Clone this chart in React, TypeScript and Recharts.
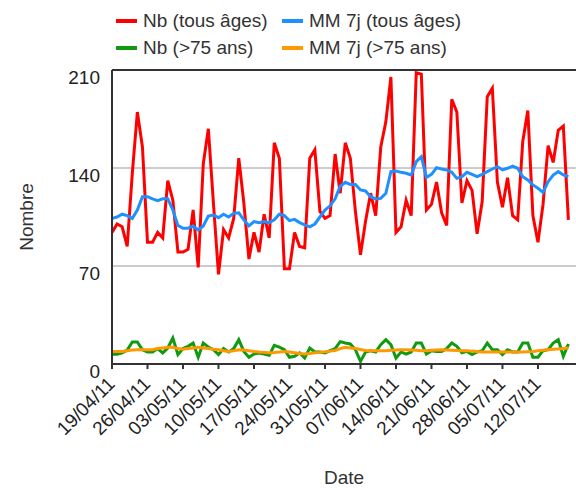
import React from 'react';
import { LineChart, Line, XAxis, YAxis, CartesianGrid, ReferenceLine } from 'recharts';

// Nombre quotidien, du 19/04/11 au 18/07/11 (un point par jour)
const nbTous = [
  94, 100, 98, 84, 136, 180, 155, 87, 87, 94, 90, 131, 117, 80, 80, 82, 110, 69, 143, 168,
  115, 64, 96, 90, 104, 147, 115, 75, 94, 80, 107, 90, 158, 147, 68, 68, 94, 84, 83, 147,
  153, 109, 104, 106, 150, 122, 158, 147, 109, 78, 102, 122, 106, 155, 173, 205, 94, 98, 117, 106,
  208, 207, 110, 114, 130, 108, 99, 189, 180, 115, 131, 124, 93, 116, 191, 197, 130, 112, 133, 106,
  103, 159, 181, 106, 87, 114, 156, 144, 167, 170, 103,
];

const mmTous = [
  104, 105, 107, 106, 104, 110, 119.5, 119.5, 118, 116.7, 118, 118, 110, 99, 97, 97, 98.6, 95.7, 98.6, 105.7,
  106.4, 104.5, 107, 105, 107.6, 108, 103, 98.6, 101.7, 101, 101.7, 101, 103, 107, 106, 102.4, 103.3, 101, 99.3, 98,
  100, 105, 110, 113, 118, 127, 129.8, 128.3, 128.3, 124.3, 123.6, 119.5, 117.9, 118.3, 121.9, 137.4, 137.9, 136.9, 136.2, 135,
  144.5, 148.1, 133.3, 135.5, 140.2, 139.3, 138.6, 137, 132.6, 133.8, 136.9, 135.5, 133.8, 135.5, 137.4, 139.3, 141, 138.6, 139.8, 141.4,
  139.8, 133.8, 131.4, 127.9, 125.5, 122.6, 130.2, 135, 137.4, 135, 133.8,
];

const nb75 = [
  7, 7, 8, 10, 15.7, 15.7, 10.2, 8.6, 8.6, 11, 7.9, 11.4, 18.6, 6.7, 11, 12.6, 15, 4.8, 15, 12.1,
  10.2, 6.7, 11, 8.6, 11, 17.4, 9, 4.8, 7.1, 7.9, 7.1, 6.2, 13.3, 12.1, 10.2, 4.8, 5.5, 7.9, 4.3, 11.4,
  8.6, 8.6, 7.9, 9.5, 11, 16, 15, 14.3, 10.2, 1.9, 8.6, 9.5, 8.6, 13.8, 17.4, 13.8, 4.3, 8.6, 7.1, 8.6,
  15, 15, 7.1, 9.5, 9, 9, 11, 15, 12.6, 8, 9, 6.7, 8.6, 9.5, 15, 10.2, 10.2, 6.7, 10.2, 8.6,
  8.6, 15, 15, 4.8, 4.8, 9.5, 10.2, 15, 17.4, 5.5, 14.3,
];

const mm75 = [
  9, 9, 9, 9.5, 10, 10.2, 10.2, 10.2, 10.2, 11, 11.5, 12, 12, 11, 10.5, 11, 11.5, 12, 11.5, 11,
  10.5, 10.2, 9.5, 9, 9.5, 10.2, 10, 9.5, 9, 8.6, 8.3, 8, 8.2, 8.5, 9, 8.5, 8, 7.5, 7.2, 7.5,
  8, 8.3, 8.7, 9.2, 9.7, 11, 12, 11.5, 11, 10.3, 9.7, 9.5, 9.5, 9.5, 9.5, 9.8, 10, 10.2, 10.2, 10,
  9.8, 9.5, 9.5, 9.8, 10, 10.2, 10, 9.8, 9.6, 9.5, 9.5, 9.2, 9, 8.6, 8.6, 8.6, 8.6, 8.6, 8.6, 8.6,
  8.6, 8.6, 8.8, 9, 9.5, 9.8, 10.2, 10.5, 10.8, 11, 11.4,
];

const tickDays = [0, 7, 14, 21, 28, 35, 42, 49, 56, 63, 70, 77, 84];
const tickLabels = [
  '19/04/11', '26/04/11', '03/05/11', '10/05/11', '17/05/11', '24/05/11', '31/05/11',
  '07/06/11', '14/06/11', '21/06/11', '28/06/11', '05/07/11', '12/07/11',
];
const yTicks = [0, 70, 140, 210];

const rows = nbTous.map((v, i) => ({
  day: i,
  nbTous: v,
  mmTous: mmTous[i],
  nb75: nb75[i],
  mm75: mm75[i],
}));

const FONT = '"Liberation Sans", Arial, sans-serif';

const legendItems = [
  { label: 'Nb (tous âges)', color: '#ff0000' },
  { label: 'MM 7j (tous âges)', color: '#1e90ff' },
  { label: 'Nb (>75 ans)', color: '#119911' },
  { label: 'MM 7j (>75 ans)', color: '#ff9900' },
];

const XTick = (props: any) => {
  const { x, y, payload } = props;
  const idx = tickDays.indexOf(payload.value);
  const tx = x + 4;
  const ty = y + 14;
  return (
    <text x={tx} y={ty} transform={`rotate(-45, ${tx}, ${ty})`} textAnchor="end"
      fontSize={19} fill="#222" fontFamily={FONT}>
      {tickLabels[idx]}
    </text>
  );
};

const YTick = (props: any) => {
  const { x, y, payload } = props;
  return (
    <text x={x} y={y + 14} textAnchor="end" fontSize={19} fill="#222" fontFamily={FONT}>
      {payload.value}
    </text>
  );
};

const Legend2 = () => (
  <div style={{ position: 'absolute', left: 116, top: 7, width: 420, fontFamily: FONT, fontSize: 19, color: '#333' }}>
    {legendItems.map((it, i) => (
      <div key={it.label} style={{
        position: 'absolute', left: (i % 2) * 166, top: Math.floor(i / 2) * 27,
        display: 'flex', alignItems: 'center', height: 28, whiteSpace: 'nowrap',
      }}>
        <span style={{ display: 'inline-block', width: 21, height: 4, background: it.color, marginRight: 6 }} />
        <span>{it.label}</span>
      </div>
    ))}
  </div>
);

export default function App() {
  return (
    <div style={{ position: 'absolute', left: 0, top: 0, width: 576, height: 488, background: '#fff', overflow: 'hidden' }}>
      <Legend2 />
      <LineChart width={576} height={488} data={rows} margin={{ top: 70, right: 0, bottom: 0, left: 0 }}>
        <CartesianGrid vertical={false} stroke="#cccccc" strokeWidth={2} />
        <XAxis
          dataKey="day"
          type="number"
          domain={[0, 91.5]}
          ticks={tickDays}
          interval={0}
          height={124}
          tick={<XTick />}
          tickSize={5}
          tickLine={{ stroke: '#333', strokeWidth: 2 }}
          axisLine={{ stroke: '#333', strokeWidth: 2 }}
          label={(p: any) => (
            <text x={p.viewBox.x + p.viewBox.width / 2} y={p.viewBox.y + 120} textAnchor="middle"
              fontSize={19} fill="#333" fontFamily={FONT}>Date</text>
          )}
        />
        <YAxis
          width={112}
          domain={[0, 210]}
          ticks={yTicks}
          interval={0}
          tick={<YTick />}
          tickLine={false}
          tickMargin={6}
          axisLine={{ stroke: '#333', strokeWidth: 2 }}
          label={(p: any) => {
            const cx = p.viewBox.x + 26;
            const cy = p.viewBox.y + p.viewBox.height / 2;
            return (
              <text x={cx} y={cy} transform={`rotate(-90, ${cx}, ${cy})`} textAnchor="middle"
                dominantBaseline="central" fontSize={19} fill="#333" fontFamily={FONT}>Nombre</text>
            );
          }}
        />
        <ReferenceLine y={210} stroke="#333" strokeWidth={2} />
        <Line dataKey="nbTous" stroke="#ff0000" strokeWidth={3} dot={false} isAnimationActive={false} />
        <Line dataKey="mmTous" stroke="#1e90ff" strokeWidth={3} dot={false} isAnimationActive={false} />
        <Line dataKey="nb75" stroke="#119911" strokeWidth={3} dot={false} isAnimationActive={false} />
        <Line dataKey="mm75" stroke="#ff9900" strokeWidth={3} dot={false} isAnimationActive={false} />
      </LineChart>
    </div>
  );
}
